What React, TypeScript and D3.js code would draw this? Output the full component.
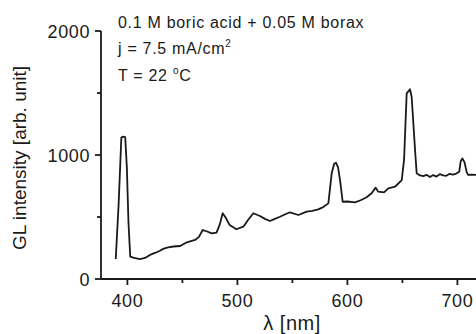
import { useEffect, useRef } from "react";
import * as d3 from "d3";

// wavelength [nm] and GL intensity [arb. unit]
const wavelength = [
  389.4, 392, 394.5, 396.3, 398, 399.5, 401, 402.6, 406, 411.5, 416, 420.5, 425, 429.6, 433, 437,
  442, 448, 454, 461.5, 465, 468.5, 472, 476.6, 481, 484, 486.6, 489, 493, 499, 505.4, 510,
  514.5, 520.5, 525, 529.6, 534, 538.7, 543, 547.8, 555.4, 563, 568, 573.5, 578, 582.7, 585.7,
  588, 589.6, 591.5, 593.3, 595.7, 600, 606.9, 612, 617.5, 622, 625.7, 628, 633.3, 637.2, 643.3,
  649.4, 651.5, 653.9, 656.9, 658.4, 660, 661.5, 663, 666, 669, 672, 675, 678, 681, 684, 687,
  690, 693, 696, 699, 701.7, 703, 704.5, 706.5, 708.5, 709.9, 713, 716.9,
];
const intensity = [
  161, 600, 1140, 1148, 1145, 900, 450, 180, 170, 161, 170, 194, 210, 228, 245, 255,
  262, 266, 296, 315, 340, 395, 385, 368, 374, 440, 530, 500, 435, 401, 422, 480,
  530, 508, 485, 468, 485, 502, 520, 538, 516, 543, 550, 562, 580, 610, 852,
  930, 938, 900, 798, 623, 625, 618, 635, 659, 691, 737, 704, 699, 731, 744,
  798, 960, 1497, 1530, 1470, 1250, 1040, 852, 835, 830, 840, 822, 838, 826, 845, 836,
  832, 848, 842, 850, 865, 950, 973, 940, 860, 839, 842, 839,
];

const yTicks = [0, 1000, 2000];
const yMinor = [500, 1500];
const xTicks = [400, 500, 600, 700];
const xMinor = [450, 550, 650];

const W = 476;
const H = 334;

export default function App() {
  const svgRef = useRef<SVGSVGElement>(null);

  useEffect(() => {
    const svg = d3.select(svgRef.current);
    svg.selectAll("*").remove();

    const x = d3.scaleLinear().domain([376, 716]).range([101, 475]);
    const y = d3.scaleLinear().domain([0, 2000]).range([279, 31]);
    const font = "'Liberation Sans', Arial, sans-serif";

    const data = wavelength.map((w, i) => [w, intensity[i]] as [number, number]);

    svg.append("path")
      .datum(data)
      .attr("fill", "none")
      .attr("stroke", "#1a1a1a")
      .attr("stroke-width", 1.8)
      .attr("stroke-linejoin", "round")
      .attr("d", d3.line<[number, number]>().x(d => x(d[0])).y(d => y(d[1])));

    // axes
    const ax = svg.append("g").attr("stroke", "#1a1a1a").attr("stroke-width", 1.8);
    ax.append("line").attr("x1", 101).attr("x2", W).attr("y1", 279).attr("y2", 279);
    ax.append("line").attr("x1", 101).attr("x2", 101).attr("y1", 31).attr("y2", 279);

    yTicks.forEach(t => {
      ax.append("line").attr("x1", 95).attr("x2", 101).attr("y1", y(t)).attr("y2", y(t));
    });
    yMinor.forEach(t => {
      ax.append("line").attr("x1", 97).attr("x2", 101).attr("y1", y(t)).attr("y2", y(t));
    });
    xTicks.forEach(t => {
      ax.append("line").attr("x1", x(t)).attr("x2", x(t)).attr("y1", 279).attr("y2", 285);
    });
    xMinor.forEach(t => {
      ax.append("line").attr("x1", x(t)).attr("x2", x(t)).attr("y1", 279).attr("y2", 283);
    });

    svg.selectAll(".ylab")
      .data(yTicks)
      .enter()
      .append("text")
      .attr("x", 90)
      .attr("y", d => y(d) + 6.5)
      .attr("text-anchor", "end")
      .attr("font-family", font)
      .attr("font-size", 18)
      .attr("letter-spacing", 0.6)
      .attr("fill", "#1a1a1a")
      .text(d => d);

    svg.selectAll(".xlab")
      .data(xTicks)
      .enter()
      .append("text")
      .attr("x", d => x(d))
      .attr("y", 306.5)
      .attr("text-anchor", "middle")
      .attr("font-family", font)
      .attr("font-size", 18)
      .attr("letter-spacing", 0.6)
      .attr("fill", "#1a1a1a")
      .text(d => d);

    svg.append("text")
      .attr("x", 292)
      .attr("y", 330)
      .attr("text-anchor", "middle")
      .attr("font-family", font)
      .attr("font-size", 20)
      .attr("letter-spacing", 0.5)
      .attr("fill", "#1a1a1a")
      .text("λ [nm]");

    svg.append("text")
      .attr("transform", "translate(26,158) rotate(-90)")
      .attr("text-anchor", "middle")
      .attr("font-family", font)
      .attr("font-size", 19)
      .attr("fill", "#1a1a1a")
      .text("GL intensity [arb. unit]");

    // annotation
    const note = svg.append("g")
      .attr("font-family", font)
      .attr("font-size", 16)
      .attr("letter-spacing", 0.7)
      .attr("fill", "#1a1a1a");
    note.append("text").attr("x", 118).attr("y", 27.5).text("0.1 M boric acid + 0.05 M borax");
    const l2 = note.append("text").attr("x", 118).attr("y", 54);
    l2.append("tspan").text("j = 7.5 mA/cm");
    l2.append("tspan").attr("font-size", 10).attr("dy", -7).text("2");
    const l3 = note.append("text").attr("x", 118).attr("y", 81);
    l3.append("tspan").text("T = 22 ");
    l3.append("tspan").attr("font-size", 10).attr("dy", -7).text("o");
    l3.append("tspan").attr("dy", 7).text("C");
  }, []);

  return (
    <svg
      ref={svgRef}
      width={W}
      height={H}
      style={{ position: "absolute", left: 0, top: 0, background: "#fff" }}
    />
  );
}
